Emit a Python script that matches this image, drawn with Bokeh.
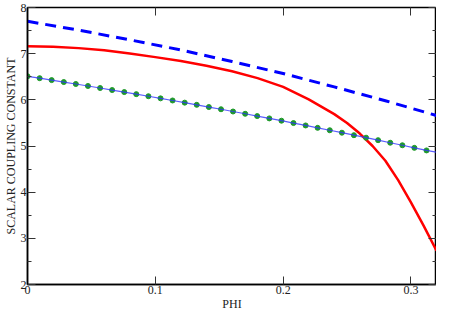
from bokeh.plotting import figure
from bokeh.models import LinearAxis, FixedTicker, CustomJSTickFormatter
from bokeh.embed import file_html
from bokeh.resources import INLINE

# ---- data ----
x_ticks = [0, 0.1, 0.2, 0.3]
x_tick_labels = {0: "0", 0.1: "0.1", 0.2: "0.2", 0.3: "0.3"}
y_ticks = [2, 3, 4, 5, 6, 7, 8]
y_minor = [2.5, 3.5, 4.5, 5.5, 6.5, 7.5]

dash_phi = [0.0, 0.04, 0.08, 0.12, 0.16, 0.20, 0.24, 0.28, 0.32]
dash_val = [7.70, 7.51, 7.30, 7.08, 6.83, 6.57, 6.28, 5.98, 5.66]

red_phi = [0.0, 0.02, 0.04, 0.06, 0.08, 0.10, 0.12, 0.14, 0.16, 0.18, 0.20,
           0.22, 0.24, 0.25, 0.26, 0.27, 0.28, 0.29, 0.30, 0.31, 0.32]
red_val = [7.16, 7.15, 7.12, 7.075, 7.005, 6.925, 6.84, 6.74, 6.62, 6.47, 6.28,
           6.01, 5.69, 5.50, 5.27, 5.00, 4.68, 4.26, 3.78, 3.27, 2.73]

dot_phi = [0.0, 0.0095, 0.0189, 0.0284, 0.0378, 0.0473, 0.0568, 0.0662,
           0.0757, 0.0851, 0.0946, 0.1041, 0.1135, 0.1230, 0.1324, 0.1419,
           0.1514, 0.1608, 0.1703, 0.1797, 0.1892, 0.1987, 0.2081, 0.2176,
           0.2270, 0.2365, 0.2460, 0.2554, 0.2649, 0.2743, 0.2838, 0.2933,
           0.3027, 0.3122]
dot_val = [6.510, 6.469, 6.427, 6.385, 6.343, 6.300, 6.256, 6.212,
           6.168, 6.123, 6.078, 6.032, 5.986, 5.939, 5.892, 5.844,
           5.796, 5.747, 5.698, 5.648, 5.598, 5.548, 5.497, 5.445,
           5.393, 5.341, 5.288, 5.234, 5.180, 5.126, 5.071, 5.016,
           4.960, 4.904]

line_phi = dot_phi + [0.32]
line_val = dot_val + [4.865]

SERIF = "Liberation Serif"

p = figure(width=436, height=313, x_range=(0, 0.32), y_range=(2, 8),
           output_backend="svg", toolbar_location=None,
           min_border_left=0, min_border_right=0, min_border_top=7,
           min_border_bottom=0, background_fill_color="white",
           border_fill_color="white")
p.grid.visible = False
p.outline_line_color = "black"
p.outline_line_width = 1.5

# bottom axis
xa = p.xaxis[0]
xa.ticker = FixedTicker(ticks=x_ticks)
xa.major_label_overrides = x_tick_labels
xa.axis_label = "PHI"
# left axis
ya = p.yaxis[0]
ya.ticker = FixedTicker(ticks=y_ticks, minor_ticks=y_minor)
ya.axis_label = "SCALAR COUPLING CONSTANT"

for ax in (xa, ya):
    ax.axis_line_color = "black"
    ax.axis_line_width = 1.5
    ax.major_tick_in = 8
    ax.major_tick_out = 0
    ax.minor_tick_in = 4
    ax.minor_tick_out = 0
    ax.major_tick_line_color = "#333333"
    ax.minor_tick_line_color = "#333333"
    ax.major_label_text_font = SERIF
    ax.major_label_text_font_size = "12px"
    ax.major_label_text_color = "#222222"
    ax.axis_label_text_font = SERIF
    ax.axis_label_text_font_size = "12px"
    ax.axis_label_text_font_style = "normal"
    ax.axis_label_text_color = "#222222"
    ax.major_label_standoff = 1
    ax.axis_label_standoff = 0
xa.minor_tick_in = 0

empty = CustomJSTickFormatter(code="return ''")
top = LinearAxis(ticker=FixedTicker(ticks=x_ticks), formatter=empty)
right = LinearAxis(ticker=FixedTicker(ticks=y_ticks, minor_ticks=y_minor), formatter=empty)
for ax in (top, right):
    ax.axis_line_color = None
    ax.major_tick_in = 8
    ax.major_tick_out = 0
    ax.minor_tick_in = 4
    ax.minor_tick_out = 0
    ax.major_tick_line_color = "#333333"
    ax.minor_tick_line_color = "#333333"
    ax.major_label_standoff = 0
    ax.major_label_text_font_size = "0px"
    ax.major_label_text_line_height = 0
top.minor_tick_in = 0
p.add_layout(top, "above")
p.add_layout(right, "right")
right.fixed_location = None

# curves
p.line(dash_phi, dash_val, line_color="#0000ff", line_width=3, line_dash="11 7")
p.line(red_phi, red_val, line_color="#ff0000", line_width=2.5)
p.scatter(dot_phi, dot_val, marker="circle", size=5, fill_color="#1f9a2a",
          line_color="#1f9a2a")
p.line(line_phi, line_val, line_color="#3333ff", line_width=1.2, line_alpha=0.8)

open("out.html", "w").write(file_html(p, INLINE))
